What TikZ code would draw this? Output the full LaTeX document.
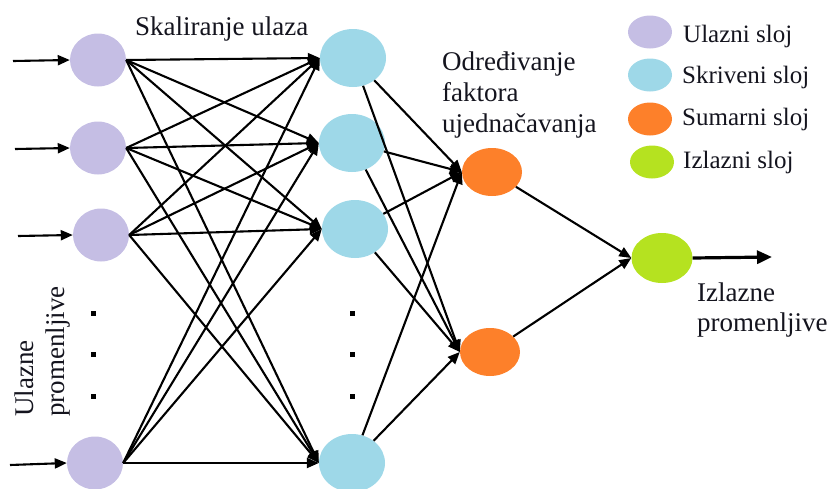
\documentclass[tikz,border=0pt]{standalone}
\usepackage{fontspec}
\setmainfont{Liberation Serif}
\usetikzlibrary{shapes.geometric,arrows.meta}
\definecolor{cin}{RGB}{197,190,228}
\definecolor{chid}{RGB}{158,216,232}
\definecolor{csum}{RGB}{253,128,42}
\definecolor{cout}{RGB}{181,226,32}
\definecolor{ctxt}{RGB}{20,20,30}
\begin{document}
\begin{tikzpicture}[x=1pt,y=-1pt,
  neuron/.style={ellipse, inner sep=0pt, draw=none},
  inp/.style={neuron, fill=cin, minimum width=56pt, minimum height=53pt},
  hid/.style={neuron, fill=chid, minimum width=66pt, minimum height=58pt},
  sumn/.style={neuron, fill=csum, minimum width=60pt, minimum height=48pt},
  outn/.style={neuron, fill=cout, minimum width=61pt, minimum height=50pt},
  legn/.style={neuron, minimum width=44pt, minimum height=33pt},
  conn/.style={line width=2.1pt, -{Triangle[length=12pt,width=10pt]}},
  bigconn/.style={line width=3.2pt, -{Triangle[length=15pt,width=13pt]}},
  lbl/.style={font=\fontsize{27}{31}\selectfont, text=ctxt, inner sep=0pt},
  leglbl/.style={font=\fontsize{25}{30}\selectfont, text=ctxt, inner sep=0pt, anchor=base west},
  dotsq/.style={fill=black, inner sep=0pt, minimum size=5pt, rectangle}
]
\useasboundingbox (0,0) rectangle (830,488);

% input layer
\node[inp] (i1) at (98,60) {};
\node[inp] (i2) at (98,148) {};
\node[inp] (i3) at (101,235) {};
\node[inp] (i4) at (95,463) {};
% hidden layer
\node[hid] (h1) at (353,58) {};
\node[hid] (h2) at (352,143) {};
\node[hid] (h3) at (355,229) {};
\node[hid] (h4) at (352,463) {};
% summation layer
\node[sumn] (s1) at (492,172) {};
\node[sumn] (s2) at (490,352) {};
% output
\node[outn] (o) at (662,258) {};

% dots
\node[dotsq] (d1) at (93,313) {};
\node[dotsq] (d2) at (93,354) {};
\node[dotsq] (d3) at (93,396) {};
\node[dotsq] (d4) at (352,313) {};
\node[dotsq] (d5) at (352,354) {};
\node[dotsq] (d6) at (352,396) {};

% input arrows
\coordinate (a1) at (13,61);
\coordinate (a2) at (15,149);
\coordinate (a3) at (18,236);
\coordinate (a4) at (10,465);
\draw[conn] (a1) -- (i1.west);
\draw[conn] (a2) -- (i2.west);
\draw[conn] (a3) -- (i3.west);
\draw[conn] (a4) -- (i4.west);

% input -> hidden
\foreach \i in {1,2,3,4}{
  \foreach \j in {1,2,3,4}{
    \draw[conn] (i\i.east) -- (h\j.west);
  }
}
% hidden -> sum
\foreach \i in {1,2,3,4}{
  \foreach \j in {1,2}{
    \draw[conn] (h\i) -- (s\j.west);
  }
}
% sum -> output
\draw[conn] (s1) -- (o.west);
\draw[conn] (s2) -- (o.west);
\coordinate (oend) at (772,257);
\draw[bigconn] (o.east) -- (oend);

% texts
\node[lbl, anchor=base west] (tsk) at (135,35) {Skaliranje ulaza};
\node[lbl, anchor=base west] (to1) at (442,70) {Određivanje};
\node[lbl, anchor=base west] (to2) at (442,101) {faktora};
\node[lbl, anchor=base west] (to3) at (442,132) {ujednačavanja};
\node[lbl, anchor=base west] (tiz1) at (697,301) {Izlazne};
\node[lbl, anchor=base west] (tiz2) at (697,331) {promenljive};
\node[lbl, anchor=base west, rotate=90] (tul1) at (33,417) {Ulazne};
\node[lbl, anchor=base west, rotate=90] (tul2) at (64,417) {promenljive};

% legend
\node[legn, fill=cin] (l1) at (650,32) {};
\node[legn, fill=chid] (l2) at (650,75) {};
\node[legn, fill=csum] (l3) at (650,119) {};
\node[legn, fill=cout] (l4) at (652,162) {};
\node[leglbl] (lt1) at (683,42) {Ulazni sloj};
\node[leglbl] (lt2) at (682,83) {Skriveni sloj};
\node[leglbl] (lt3) at (682,125) {Sumarni sloj};
\node[leglbl] (lt4) at (683,168) {Izlazni sloj};
\end{tikzpicture}
\end{document}
